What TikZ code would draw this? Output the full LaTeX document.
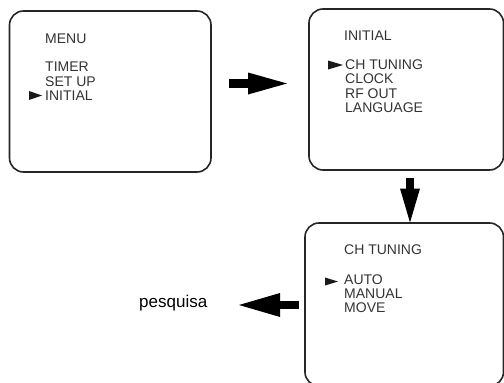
\documentclass[tikz,border=0pt]{standalone}
\usepackage{fontspec}
\setmainfont{Liberation Sans}
\usetikzlibrary{arrows.meta}
\begin{document}
\begin{tikzpicture}[x=1pt,y=-1pt,
  screen/.style={draw=black!85, line width=1.6pt, rounded corners=14pt, inner sep=0pt},
  item/.style={anchor=base west, inner sep=0pt, text=black!80, font=\fontsize{14}{14}\selectfont},
  caption/.style={anchor=base west, inner sep=0pt, text=black, font=\fontsize{17}{17}\selectfont},
  cursor/.style={fill=black!90},
  fat/.style n args={3}{draw=black, line width=#1, -{Triangle[length=#2, width=#3, line width=0pt]}}
]
\useasboundingbox (0,0) rectangle (504,383);
\clip (0,0) rectangle (504,383);

% menu screens
\node[screen, minimum width=201.5pt, minimum height=161pt] (menu) at (110.25,91.5) {};
\node[screen, minimum width=194.5pt, minimum height=161pt] (initial) at (406.25,89.5) {};
\node[screen, minimum width=198.5pt, minimum height=163pt] (tuning) at (404.25,304.5) {};

% MENU screen
\node[item] (m0) at (45,43) {MENU};
\node[item] (m1) at (45,71) {TIMER};
\node[item] (m2) at (45,86) {SET UP};
\node[item] (m3) at (45,100) {INITIAL};
\fill[cursor] (29,91) -- (42,95.5) -- (29,100) -- cycle;

% INITIAL screen
\node[item] (i0) at (344,40) {INITIAL};
\node[item] (i1) at (345,69) {CH TUNING};
\node[item] (i2) at (345,83) {CLOCK};
\node[item] (i3) at (345,98) {RF OUT};
\node[item] (i4) at (345,112) {LANGUAGE};
\fill[cursor] (328,60.5) -- (343,65) -- (328,69.5) -- cycle;

% CH TUNING screen
\node[item] (t0) at (344,254) {CH TUNING};
\node[item] (t1) at (344,284) {AUTO};
\node[item] (t2) at (344,298) {MANUAL};
\node[item] (t3) at (344,312) {MOVE};
\fill[cursor] (325,277.5) -- (338,281.5) -- (325,285.5) -- cycle;

% caption
\node[caption] (search) at (139,307.5) {pesquisa};

% transition arrows
\coordinate (a1) at (229,83.5);
\coordinate (a2) at (287,83.5);
\coordinate (b1) at (410,178);
\coordinate (b2) at (410,222.5);
\coordinate (c1) at (299,305);
\coordinate (c2) at (239,305);
\draw[fat={9pt}{39pt}{22pt}] (a1) -- (a2);
\draw[fat={8pt}{34pt}{20pt}] (b1) -- (b2);
\draw[fat={8pt}{41pt}{24pt}] (c1) -- (c2);
\end{tikzpicture}
\end{document}
